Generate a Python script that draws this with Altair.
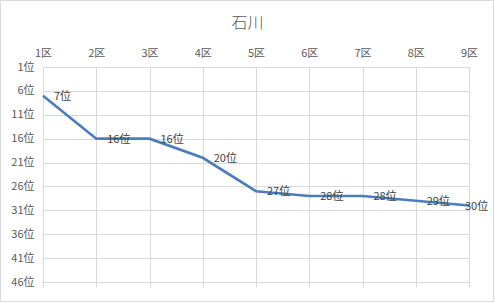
import altair as alt
import pandas as pd

districts = ["1区", "2区", "3区", "4区", "5区", "6区", "7区", "8区", "9区"]
ranks = [7, 16, 16, 20, 27, 28, 28, 29, 30]
labels = [f"{r}位" for r in ranks]
rank_ticks = [1, 6, 11, 16, 21, 26, 31, 36, 41, 46]
title_text = "石川"

df = pd.DataFrame({"district": districts, "rank": ranks, "label": labels,
                   "idx": list(range(len(districts)))})

FONT = "Noto Sans CJK JP"
GRID = "#d9d9d9"
TXT = "#595959"
last_idx = len(districts) - 1

xscale = alt.Scale(type="point", padding=0)
yscale = alt.Scale(domain=[1, 46], reverse=True, nice=False, zero=False)

x_top = alt.X("district:N", sort=districts, scale=xscale,
              axis=alt.Axis(orient="top", title=None, labelAngle=0, ticks=False,
                            domain=False, grid=True, gridColor=GRID,
                            labelPadding=9, labelColor=TXT, labelFontSize=11,
                            labelFont=FONT, labelOverlap=False))
y_enc = alt.Y("rank:Q", scale=yscale,
              axis=alt.Axis(values=rank_ticks, title=None, ticks=False, domain=False,
                            grid=True, gridColor=GRID, labelExpr="datum.value + '位'",
                            labelPadding=9, labelColor=TXT, labelFontSize=11,
                            labelFont=FONT, labelOverlap=False))

line = alt.Chart(df).mark_line(color="#4A7DBA", strokeWidth=2.6).encode(x=x_top, y=y_enc)

x_bottom = alt.X("district:N", sort=districts, scale=xscale,
                 axis=alt.Axis(orient="bottom", title=None, labels=False, domain=False,
                               grid=False, ticks=True, tickSize=5, tickColor=GRID))
ticks_layer = alt.Chart(df).mark_point(opacity=0).encode(x=x_bottom, y=y_enc)

x_plain = alt.X("district:N", sort=districts, scale=xscale, axis=None)

text_main = alt.Chart(df).transform_filter(f"datum.idx < {last_idx}").mark_text(
    align="left", baseline="middle", dx=11, dy=1, fontSize=11, font=FONT, color="#404040"
).encode(x=x_plain, y=y_enc, text="label:N")

text_last = alt.Chart(df).transform_filter(f"datum.idx == {last_idx}").mark_text(
    align="left", baseline="middle", dx=-4, dy=1, fontSize=11, font=FONT, color="#404040"
).encode(x=x_plain, y=y_enc, text="label:N")

title_df = pd.DataFrame({"t": [title_text]})
title = alt.Chart(title_df).mark_text(
    fontSize=16, font=FONT, fontWeight=300, color=TXT, align="center", baseline="middle"
).encode(x=alt.value(204.5), y=alt.value(-44), text="t:N")

border = alt.Chart(title_df).mark_rect(fill=None, stroke=GRID, strokeWidth=1).encode(
    x=alt.value(-42.5), x2=alt.value(450.5), y=alt.value(-66.5), y2=alt.value(234.5))

chart = alt.layer(line, ticks_layer, text_main, text_last, title, border).properties(
    width=426, height=215,
    autosize=alt.AutoSizeParams(type="none"),
    padding={"left": 43, "top": 67, "right": 26, "bottom": 21},
).configure_view(stroke=None).configure(background="white")

chart.save("out.html", embed_options={"renderer": "svg", "actions": False})
